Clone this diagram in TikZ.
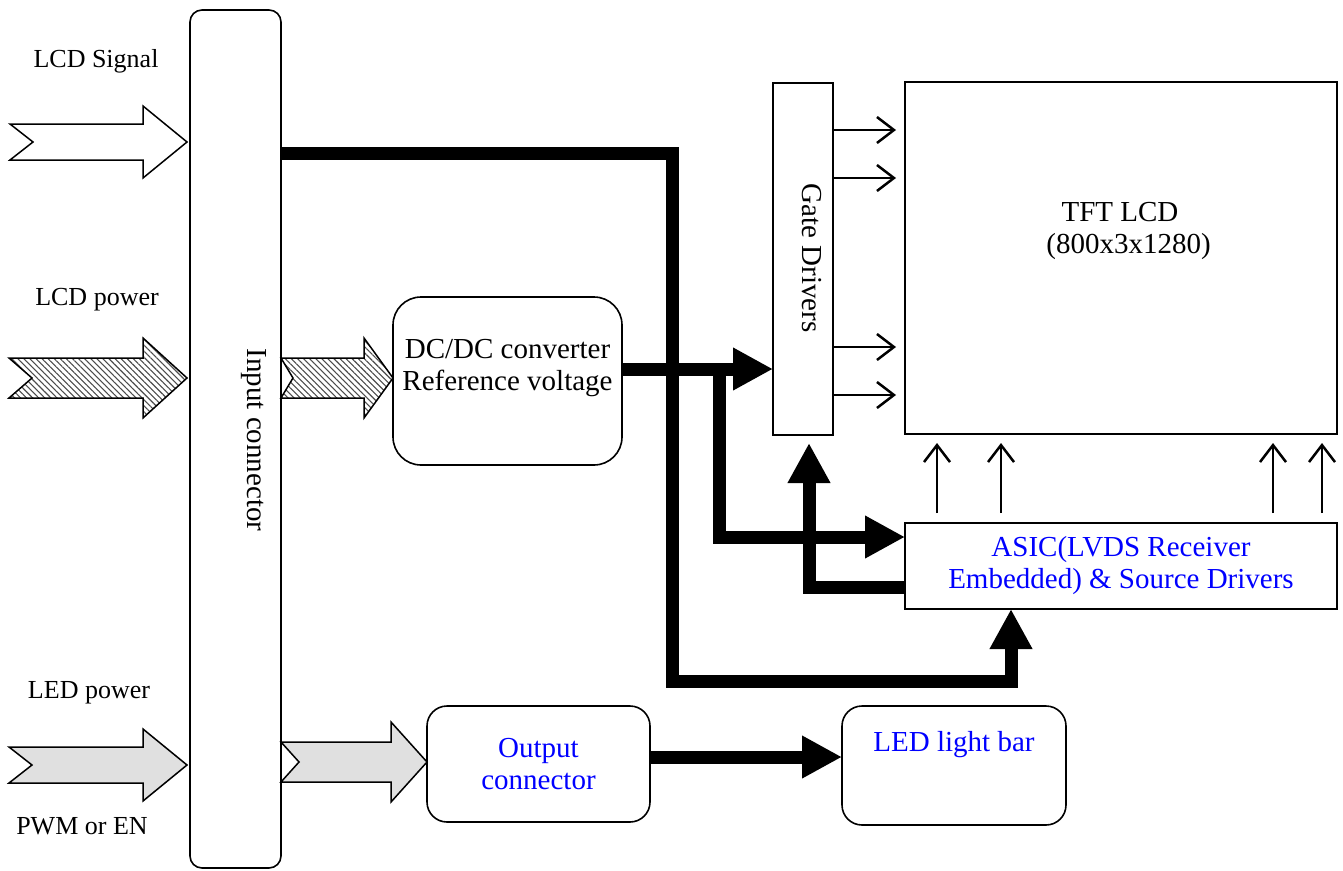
\documentclass[tikz,border=0pt]{standalone}
\usepackage{fontspec}
\setmainfont{Liberation Serif}
\usetikzlibrary{arrows.meta,calc,patterns.meta}

\tikzset{
  panel/.style={draw, line width=1.6pt, inner sep=0pt, outer sep=0pt},
  boxtext/.style={font=\fontsize{29}{32}\selectfont, align=center},
  lbl/.style={font=\fontsize{26}{30}\selectfont},
  buswire/.style={line width=13pt, -{Triangle[length=40pt,width=40pt]}},
  sigwire/.style={line width=2.5pt, shorten >=9pt, -{Straight Barb[length=17pt,width=26pt]}},
  plainarrow/.style={draw, line width=1.5pt, fill=white},
  hatcharrow/.style={draw, line width=1.5pt, pattern={Lines[angle=-45,distance=4.3pt,line width=1.1pt]}, pattern color=black!70},
  greyarrow/.style={draw, line width=1.5pt, fill=black!12},
}

% notched block arrow: style, tail, tip, half body, half head, head length, notch
\newcommand\fatarrow[7]{%
  \path[#1] let \p1=#2, \p2=#3 in
    (\x1,{\y2+#4}) -- ({\x2-#6},{\y2+#4}) -- ({\x2-#6},{\y2+#5}) -- (\x2,\y2)
    -- ({\x2-#6},{\y2-#5}) -- ({\x2-#6},{\y2-#4}) -- (\x1,{\y2-#4}) -- ({\x1+#7},\y2) -- cycle;}

\begin{document}
\begin{tikzpicture}[x=1pt,y=-1pt]
\useasboundingbox (0,0) rectangle (1343,870);

% blocks
\node[panel, rounded corners=12pt, minimum width=91pt, minimum height=858pt] (conn) at (235.5,439) {};
\node[boxtext, rotate=-90] (connlbl) at (254,440) {Input connector};
\node[panel, minimum width=60pt, minimum height=352pt] (gate) at (803,259) {};
\node[boxtext, rotate=-90] (gatelbl) at (812,258) {Gate Drivers};
\node[panel, minimum width=432pt, minimum height=352pt] (tft) at (1121,258) {};
\node[boxtext] (tftlbl) at (1120,231) {TFT LCD\\\hspace*{17pt}(800x3x1280)};
\node[panel, boxtext, text=blue, minimum width=432pt, minimum height=86pt] (asic) at (1121,566) {ASIC(LVDS Receiver\\Embedded) \& Source Drivers};
\node[panel, rounded corners=28pt, minimum width=229pt, minimum height=168pt] (dcdc) at (507.5,381) {};
\node[boxtext] (dcdclbl) at (507.5,368) {DC/DC converter\\Reference voltage};
\node[panel, boxtext, text=blue, rounded corners=20pt, minimum width=223pt, minimum height=116pt] (outc) at (538.5,764) {Output\\connector};
\node[panel, rounded corners=20pt, minimum width=224pt, minimum height=119pt] (led) at (954,765.5) {};
\node[boxtext, text=blue] (ledlbl) at (954,745) {LED light bar};

% input labels
\node[lbl] (sigtxt) at (96,61) {LCD Signal};
\node[lbl] (pwrtxt) at (97,300) {LCD power};
\node[lbl] (ledtxt) at (89,693) {LED power};
\node[lbl] (pwmtxt) at (82,826) {PWM or EN};

% fat input arrows
\coordinate (sig) at (10,142);
\coordinate (pwr) at (9,378);
\coordinate (ledin) at (9,765);
\coordinate (dcin) at ([yshift=3pt]dcdc.west);
\coordinate (ocin) at ([yshift=2pt]outc.west);
\fatarrow{plainarrow}{(sig)}{([xshift=-3pt]conn.west |- sig)}{18pt}{36pt}{44pt}{23pt}
\fatarrow{hatcharrow}{(pwr)}{([xshift=-3pt]conn.west |- pwr)}{20pt}{40pt}{44pt}{23pt}
\fatarrow{greyarrow}{(ledin)}{([xshift=-3pt]conn.west |- ledin)}{18pt}{36pt}{44pt}{23pt}
\fatarrow{hatcharrow}{(conn.east |- dcin)}{(dcin)}{20pt}{40pt}{29pt}{12pt}
\fatarrow{greyarrow}{(conn.east |- ocin)}{(ocin)}{20pt}{40pt}{36pt}{18pt}

% thick buses
\coordinate (bend1) at (672,153);
\coordinate (bend2) at (672,681);
\coordinate (bend3) at (1011,681);
\draw[buswire] (conn.east |- bend1) -- (bend1) -- (bend2) -- (bend3) -- (bend3 |- asic.south);
\coordinate (dcout) at ([yshift=12pt]dcdc.east);
\draw[buswire] (dcout) -- (dcout -| gate.west);
\coordinate (tap) at (719,369);
\coordinate (tapdown) at (719,537);
\draw[buswire] (tap) -- (tapdown) -- (tapdown -| asic.west);
\coordinate (back) at (809,587);
\draw[buswire, shorten >=8pt] (back -| asic.west) -- (back) -- (back |- gate.south);
\coordinate (ledline) at (0,757);
\draw[buswire] (outc.east |- ledline) -- (led.west |- ledline);

% thin signal arrows
\foreach \y in {130,178,347,395}
  \draw[sigwire] (gate.east |- 0,\y) -- (tft.west |- 0,\y);
\foreach \x in {937,1001,1273,1322}
  \draw[sigwire, shorten <=10pt] (asic.north -| \x,0) -- (tft.south -| \x,0);
\end{tikzpicture}
\end{document}
